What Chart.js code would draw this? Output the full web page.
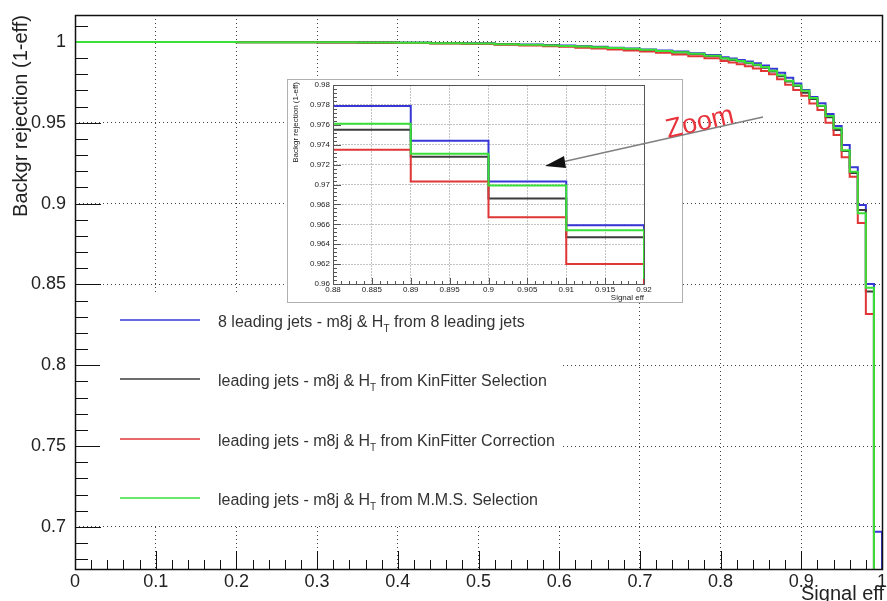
<!DOCTYPE html>
<html>
<head>
<meta charset="utf-8">
<script src="https://cdn.jsdelivr.net/npm/chart.js@4.4.1/dist/chart.umd.min.js"></script>
<style>
  html, body { margin: 0; padding: 0; background: #fff; }
  #wrap { position: relative; width: 887px; height: 601px; overflow: hidden; }
  #main { position: absolute; left: 0; top: 0; }
  #zoomBox { position: absolute; left: 288px; top: 80px; width: 394px; height: 222px; background: #fff; box-shadow: 0 0 0 1px #b0b0b0; }
  #overlay { position: absolute; left: 0; top: 0; }
</style>
</head>
<body>
<div id="wrap">
  <canvas id="main" width="887" height="601"></canvas>
  <div id="zoomBox"><canvas id="inset" width="394" height="222"></canvas></div>
  <svg id="overlay" width="887" height="601">
    <line x1="763" y1="117" x2="562" y2="162" stroke="#808080" stroke-width="1.6"/>
    <polygon points="545,166 564,156 566,168" fill="#111"/>
    <text x="668" y="138" transform="rotate(-13 668 138)" fill="#e8333d"
          font-family="Liberation Sans, Arial, sans-serif" font-size="27">Zoom</text>
  </svg>
</div>
<script>
// signal efficiency bin edges (last entry closes the last bin)
const effEdges = [0, 0.2, 0.3, 0.35, 0.4, 0.44, 0.48, 0.52, 0.55, 0.58,
  0.6, 0.62, 0.64, 0.66, 0.68, 0.7, 0.72, 0.74, 0.76, 0.78,
  0.8, 0.81, 0.82, 0.83, 0.84, 0.85, 0.86, 0.87,
  0.88, 0.89, 0.9, 0.91, 0.92, 0.93, 0.94, 0.95, 0.96, 0.97, 0.98, 0.99, 1.0];

// background rejection (1-eff) per bin
const rejBlue  = [1.0, 1.0, 0.9998, 0.9997, 0.9996, 0.9994, 0.9991, 0.9987, 0.9984, 0.9980,
  0.9978, 0.9974, 0.9970, 0.9965, 0.9960, 0.9954, 0.9948, 0.9941, 0.9931, 0.9920,
  0.9906, 0.9898, 0.9889, 0.9879, 0.9868, 0.9854, 0.9835, 0.9810,
  0.9779, 0.9744, 0.9703, 0.9659, 0.9621, 0.9555, 0.9480, 0.9363, 0.9225, 0.8992, 0.8503, 0.697, 0.0];
const rejBlack = [1.0, 0.9999, 0.9998, 0.9997, 0.9995, 0.9993, 0.9990, 0.9986, 0.9982, 0.9978,
  0.9975, 0.9971, 0.9967, 0.9962, 0.9957, 0.9951, 0.9944, 0.9935, 0.9925, 0.9913,
  0.9898, 0.9889, 0.9879, 0.9868, 0.9856, 0.9840, 0.9818, 0.9788,
  0.9755, 0.9728, 0.9686, 0.9647, 0.9604, 0.9534, 0.9456, 0.9325, 0.9190, 0.8960, 0.8456, 0.60, 0.60];
const rejRed   = [1.0, 0.9999, 0.9997, 0.9996, 0.9994, 0.9991, 0.9988, 0.9983, 0.9978, 0.9973,
  0.9970, 0.9965, 0.9960, 0.9954, 0.9948, 0.9941, 0.9933, 0.9923, 0.9912, 0.9899,
  0.9883, 0.9873, 0.9862, 0.9850, 0.9836, 0.9820, 0.9800, 0.9770,
  0.9735, 0.9703, 0.9667, 0.9620, 0.9580, 0.9501, 0.9425, 0.9287, 0.9167, 0.8880, 0.8318, 0.60, 0.60];
const rejGreen = [1.0, 0.9999, 0.9998, 0.9997, 0.9995, 0.9993, 0.9990, 0.9986, 0.9983, 0.9979,
  0.9976, 0.9972, 0.9968, 0.9963, 0.9958, 0.9952, 0.9945, 0.9937, 0.9927, 0.9915,
  0.9900, 0.9892, 0.9882, 0.9872, 0.9860, 0.9846, 0.9822, 0.9794,
  0.9761, 0.9731, 0.9699, 0.9654, 0.9605, 0.9542, 0.9466, 0.9330, 0.9198, 0.8940, 0.8480, 0.60, 0.60];

const seriesNames = [
  '8 leading jets - m8j & H_{T} from 8 leading jets',
  'leading jets - m8j & H_{T} from KinFitter Selection',
  'leading jets - m8j & H_{T} from KinFitter Correction',
  'leading jets - m8j & H_{T} from M.M.S. Selection'
];
const seriesColors = ['#3737d6', '#3c3c3c', '#e03636', '#38e038'];
const seriesValues = [rejBlue, rejBlack, rejRed, rejGreen];
const seriesOrder = [3, 2, 1, 0];

// axis ticks
const xTickValues = [0, 0.1, 0.2, 0.3, 0.4, 0.5, 0.6, 0.7, 0.8, 0.9, 1.0];
const xTickLabels = ['0', '0.1', '0.2', '0.3', '0.4', '0.5', '0.6', '0.7', '0.8', '0.9', '1'];
const yTickValues = [0.7, 0.75, 0.8, 0.85, 0.9, 0.95, 1.0];
const yTickLabels = ['0.7', '0.75', '0.8', '0.85', '0.9', '0.95', '1'];
const zxTickValues = [0.88, 0.885, 0.89, 0.895, 0.9, 0.905, 0.91, 0.915, 0.92];
const zxTickLabels = ['0.88', '0.885', '0.89', '0.895', '0.9', '0.905', '0.91', '0.915', '0.92'];
const zyTickValues = [0.96, 0.962, 0.964, 0.966, 0.968, 0.97, 0.972, 0.974, 0.976, 0.978, 0.98];
const zyTickLabels = ['0.96', '0.962', '0.964', '0.966', '0.968', '0.97', '0.972', '0.974', '0.976', '0.978', '0.98'];

const FONT = '"Liberation Sans", Arial, Helvetica, sans-serif';

function buildDatasets(lw) {
  return seriesNames.map((name, i) => ({
    label: name.replace('_{T}', 'T'),
    data: effEdges.map((e, j) => ({ x: e, y: seriesValues[i][j] })),
    borderColor: seriesColors[i],
    borderWidth: lw,
    stepped: 'before',
    pointRadius: 0,
    fill: false,
    order: seriesOrder[i]
  }));
}

// ROOT-like decorations: ticks inside the frame, frame, titles, legend box
function drawMinorTicks(ctx, scale, a, horizontal, cfg) {
  const [from, to, step, majorStep, lenMaj, lenMin] = cfg;
  const n = Math.round((to - from) / step);
  ctx.beginPath();
  for (let i = 0; i <= n; i++) {
    const v = from + i * step;
    const r = v / majorStep;
    const major = Math.abs(r - Math.round(r)) < 1e-6;
    const len = major ? lenMaj : lenMin;
    const p = Math.round(scale.getPixelForValue(v)) + 0.5;
    if (horizontal) {
      ctx.moveTo(p, a.bottom); ctx.lineTo(p, a.bottom - len);
    } else {
      ctx.moveTo(a.left, p); ctx.lineTo(a.left + len, p);
    }
  }
  ctx.stroke();
}

function drawRichLabel(ctx, text, x, y, size) {
  const parts = text.split('_{T}');
  ctx.font = size + 'px ' + FONT;
  ctx.fillText(parts[0], x, y);
  let w = ctx.measureText(parts[0]).width;
  if (parts.length > 1) {
    ctx.font = Math.round(size * 0.65) + 'px ' + FONT;
    ctx.fillText('T', x + w, y + size * 0.3);
    w += ctx.measureText('T').width;
    ctx.font = size + 'px ' + FONT;
    ctx.fillText(parts[1], x + w, y);
  }
}

const rootFrame = {
  id: 'rootFrame',
  beforeDatasetsDraw(chart, args, opts) {
    const { ctx, chartArea: a, scales } = chart;
    ctx.save();
    ctx.strokeStyle = opts.frameColor;
    ctx.lineWidth = 1;
    drawMinorTicks(ctx, scales.x, a, true, opts.xTicks);
    drawMinorTicks(ctx, scales.y, a, false, opts.yTicks);
    ctx.restore();
  },
  afterDatasetsDraw(chart, args, opts) {
    const { ctx, chartArea: a } = chart;
    ctx.save();
    if (opts.legend) {
      const L = opts.legend;
      ctx.fillStyle = '#fff';
      ctx.fillRect(L.box[0], L.box[1], L.box[2] - L.box[0], L.box[3] - L.box[1]);
      seriesNames.forEach((name, i) => {
        ctx.strokeStyle = seriesColors[i];
        ctx.lineWidth = 1.5;
        ctx.beginPath();
        ctx.moveTo(L.lineX[0], L.rows[i]);
        ctx.lineTo(L.lineX[1], L.rows[i]);
        ctx.stroke();
        ctx.fillStyle = '#333';
        ctx.textBaseline = 'alphabetic';
        ctx.textAlign = 'left';
        drawRichLabel(ctx, name, L.textX, L.rows[i] + L.textDy, L.size);
      });
    }
    ctx.strokeStyle = opts.frameColor;
    ctx.lineWidth = opts.frameWidth;
    ctx.strokeRect(Math.round(a.left) + 0.5, Math.round(a.top) + 0.5,
      Math.round(a.right - a.left), Math.round(a.bottom - a.top));
    // axis titles
    ctx.fillStyle = '#222';
    ctx.font = opts.titleSize + 'px ' + FONT;
    ctx.textAlign = 'right';
    ctx.textBaseline = 'alphabetic';
    ctx.fillText(opts.xTitle, a.right + opts.xTitleDx, chart.height - opts.xTitleBottom);
    ctx.translate(opts.yTitleX, a.top + opts.yTitleDy);
    ctx.rotate(-Math.PI / 2);
    ctx.fillText(opts.yTitle, 0, 0);
    ctx.restore();
  }
};

function axis(min, max, tickValues, tickLabels, size, pad, fit, grid, isX) {
  return {
    type: 'linear', min: min, max: max,
    afterBuildTicks: s => { s.ticks = tickValues.map(v => ({ value: v })); },
    afterFit: s => {
      if (isX) s.height = fit; else s.width = fit;
      s.paddingTop = 0; s.paddingBottom = 0; s.paddingLeft = 0; s.paddingRight = 0;
    },
    ticks: {
      callback: (v, i) => tickLabels[i],
      font: { family: FONT, size: size }, color: '#222',
      padding: pad, maxRotation: 0, autoSkip: false
    },
    grid: { color: grid.color, lineWidth: 1, drawTicks: false },
    border: { display: false, dash: grid.dash }
  };
}

new Chart(document.getElementById('main'), {
  type: 'line',
  data: { datasets: buildDatasets(2) },
  options: {
    responsive: false,
    animation: false,
    events: [],
    layout: { padding: { top: 15, right: 5, bottom: 0, left: 0 } },
    scales: {
      x: axis(0, 1, xTickValues, xTickLabels, 18, 2, 32, { color: '#444', dash: [1, 3] }, true),
      y: axis(0.674, 1.0167, yTickValues, yTickLabels, 18, 9, 75, { color: '#444', dash: [1, 3] }, false)
    },
    plugins: {
      legend: { display: false },
      tooltip: { enabled: false },
      rootFrame: {
        frameColor: '#111', frameWidth: 1.5,
        xTicks: [0, 1, 0.02, 0.1, 18, 9],
        yTicks: [0.68, 1.01, 0.01, 0.05, 26, 13],
        xTitle: 'Signal eff', xTitleDx: 2, xTitleBottom: 1,
        yTitle: 'Backgr rejection (1-eff)', yTitleX: 27, yTitleDy: 0,
        titleSize: 20,
        legend: { box: [100, 295, 562, 524], lineX: [120, 200], rows: [320, 379, 439, 498], textX: 218, textDy: 7, size: 16 }
      }
    }
  },
  plugins: [rootFrame]
});

new Chart(document.getElementById('inset'), {
  type: 'line',
  data: { datasets: buildDatasets(2) },
  options: {
    responsive: false,
    animation: false,
    events: [],
    layout: { padding: { top: 5, right: 38, bottom: 0, left: 0 } },
    scales: {
      x: axis(0.88, 0.92, zxTickValues, zxTickLabels, 8, 1, 18, { color: '#c4c4c4', dash: [2, 1] }, true),
      y: axis(0.96, 0.98, zyTickValues, zyTickLabels, 8, 3, 45, { color: '#c4c4c4', dash: [2, 1] }, false)
    },
    plugins: {
      legend: { display: false },
      tooltip: { enabled: false },
      rootFrame: {
        frameColor: '#555', frameWidth: 1,
        xTicks: [0.88, 0.92, 0.001, 0.005, 6, 3],
        yTicks: [0.96, 0.98, 0.0004, 0.002, 8, 4],
        xTitle: 'Signal eff', xTitleDx: 0, xTitleBottom: 2,
        yTitle: 'Backgr rejection (1-eff)', yTitleX: 10, yTitleDy: -3,
        titleSize: 8
      }
    }
  },
  plugins: [rootFrame]
});
</script>
</body>
</html>
